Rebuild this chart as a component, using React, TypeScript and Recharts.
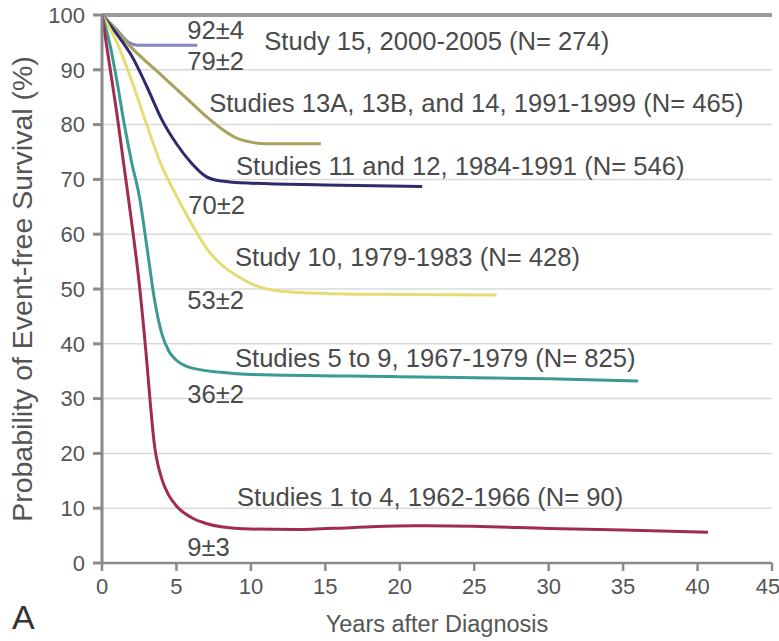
import React from "react"
import {
  LineChart,
  Line,
  XAxis,
  YAxis,
  CartesianGrid,
  ReferenceLine,
  ReferenceDot,
} from "recharts"

// event-free survival curves (years, %)
const study15 = [
  { x: 0, y: 100 }, { x: 1, y: 97.3 }, { x: 1.8, y: 95 }, { x: 2.4, y: 94.5 }, { x: 6.4, y: 94.5 },
]
const studies13to14 = [
  { x: 0, y: 100 }, { x: 1, y: 97 }, { x: 2, y: 94 }, { x: 4, y: 89 }, { x: 6, y: 84 },
  { x: 7, y: 81.5 }, { x: 8, y: 79.3 }, { x: 9, y: 77.6 }, { x: 10, y: 76.8 }, { x: 11, y: 76.5 },
  { x: 14.7, y: 76.5 },
]
const studies11to12 = [
  { x: 0, y: 100 }, { x: 1, y: 96.5 }, { x: 2, y: 92.5 }, { x: 3, y: 87 }, { x: 4, y: 81 },
  { x: 5, y: 76.5 }, { x: 6, y: 73 }, { x: 7, y: 70.5 }, { x: 8, y: 69.7 }, { x: 10, y: 69.3 },
  { x: 15, y: 69 }, { x: 21.5, y: 68.7 },
]
const study10 = [
  { x: 0, y: 100 }, { x: 1, y: 95 }, { x: 2, y: 88 }, { x: 3, y: 80 }, { x: 4, y: 72.5 },
  { x: 5, y: 67 }, { x: 6, y: 62 }, { x: 7, y: 57.5 }, { x: 8, y: 54.5 }, { x: 9, y: 52.5 },
  { x: 10, y: 51 }, { x: 12, y: 49.6 }, { x: 15, y: 49.2 }, { x: 20, y: 49 }, { x: 26.5, y: 48.9 },
]
const studies5to9 = [
  { x: 0, y: 100 }, { x: 0.5, y: 95 }, { x: 1, y: 88 }, { x: 1.5, y: 80 }, { x: 2, y: 73 },
  { x: 2.5, y: 67 }, { x: 3, y: 58 }, { x: 3.5, y: 48.5 }, { x: 4, y: 42 }, { x: 4.5, y: 38.6 },
  { x: 5, y: 37 }, { x: 6, y: 35.6 }, { x: 8, y: 34.8 }, { x: 10, y: 34.4 }, { x: 20, y: 34 },
  { x: 30, y: 33.6 }, { x: 36, y: 33.2 },
]
const studies1to4 = [
  { x: 0, y: 100 }, { x: 0.5, y: 91 }, { x: 1, y: 82 }, { x: 1.5, y: 72 }, { x: 2, y: 62 },
  { x: 2.5, y: 51 }, { x: 3, y: 37 }, { x: 3.25, y: 29 }, { x: 3.5, y: 22 }, { x: 4, y: 15.5 },
  { x: 4.5, y: 12.3 }, { x: 5, y: 10.4 }, { x: 6, y: 8.3 }, { x: 7, y: 7.2 }, { x: 8, y: 6.6 },
  { x: 10, y: 6.2 }, { x: 13, y: 6.1 }, { x: 17, y: 6.5 }, { x: 21, y: 6.8 }, { x: 25, y: 6.7 },
  { x: 30, y: 6.3 }, { x: 35, y: 6 }, { x: 40.7, y: 5.6 },
]

const xTicks = [0, 5, 10, 15, 20, 25, 30, 35, 40, 45]
const yTicks = [0, 10, 20, 30, 40, 50, 60, 70, 80, 90, 100]

// study names and 5-year EFS figures, anchored at (years, %)
const studyNames = [
  { x: 10.9, y: 95.3, text: "Study 15, 2000-2005 (N= 274)" },
  { x: 7.2, y: 84.0, text: "Studies 13A, 13B, and 14, 1991-1999 (N= 465)" },
  { x: 9.0, y: 72.4, text: "Studies 11 and 12, 1984-1991 (N= 546)" },
  { x: 8.93, y: 55.9, text: "Study 10, 1979-1983 (N= 428)" },
  { x: 8.93, y: 37.5, text: "Studies 5 to 9, 1967-1979 (N= 825)" },
  { x: 9.07, y: 12.1, text: "Studies 1 to 4, 1962-1966 (N= 90)" },
]
const efsValues = [
  { x: 5.73, y: 97.2, text: "92±4" },
  { x: 5.73, y: 91.7, text: "79±2" },
  { x: 5.8, y: 65.3, text: "70±2" },
  { x: 5.73, y: 48.0, text: "53±2" },
  { x: 5.73, y: 30.9, text: "36±2" },
  { x: 5.73, y: 3.0, text: "9±3" },
]

const font = "'Liberation Sans', Arial, Helvetica, sans-serif"
const textColor = "#4a4a4a"
const axisColor = "#8a8a8a"

export default function App() {
  return (
    <div style={{ position: "absolute", left: 0, top: 0, width: 779, height: 641, background: "#fff", fontFamily: font }}>
      <LineChart width={779} height={641} margin={{ top: 15, right: 7, bottom: 0, left: 0 }}>
        <CartesianGrid vertical={false} stroke="#dadada" strokeWidth={1.5} />
        <XAxis
          type="number"
          dataKey="x"
          domain={[0, 45]}
          ticks={xTicks}
          allowDataOverflow
          height={78}
          stroke={axisColor}
          strokeWidth={2.5}
          tickSize={8}
          tickMargin={7}
          tick={{ fill: "#555", fontSize: 22, fontFamily: font }}
          label={{ value: "Years after Diagnosis", position: "insideBottom", offset: 9, fill: "#555", fontSize: 23.5, fontFamily: font }}
        />
        <YAxis
          type="number"
          dataKey="y"
          domain={[0, 100]}
          ticks={yTicks}
          width={102}
          stroke={axisColor}
          strokeWidth={3}
          tickSize={9}
          tickMargin={8}
          tick={{ fill: "#555", fontSize: 22, fontFamily: font }}
          label={{
            value: "Probability of Event-free Survival (%)",
            angle: -90,
            position: "insideLeft",
            offset: 22,
            fill: "#555",
            fontSize: 28.5,
            fontFamily: font,
            textAnchor: "middle",
            style: { textAnchor: "middle" },
          }}
        />
        <ReferenceLine y={100} stroke="#9b9b9b" strokeWidth={4} />
        <Line data={study15} dataKey="y" type="monotone" stroke="#8585c2" strokeWidth={3} dot={false} isAnimationActive={false} />
        <Line data={studies13to14} dataKey="y" type="monotone" stroke="#a8a35c" strokeWidth={3} dot={false} isAnimationActive={false} />
        <Line data={studies11to12} dataKey="y" type="monotone" stroke="#2d2b6b" strokeWidth={3} dot={false} isAnimationActive={false} />
        <Line data={study10} dataKey="y" type="monotone" stroke="#e6dc74" strokeWidth={3} dot={false} isAnimationActive={false} />
        <Line data={studies5to9} dataKey="y" type="monotone" stroke="#3b9b92" strokeWidth={3} dot={false} isAnimationActive={false} />
        <Line data={studies1to4} dataKey="y" type="monotone" stroke="#a02c50" strokeWidth={3} dot={false} isAnimationActive={false} />
        {studyNames.map((s) => (
          <ReferenceDot
            key={s.text}
            x={s.x}
            y={s.y}
            r={0}
            fill="none"
            stroke="none"
            label={{ value: s.text, position: "right", offset: 0, fill: textColor, fontSize: 25.6, fontFamily: font }}
          />
        ))}
        {efsValues.map((s) => (
          <ReferenceDot
            key={s.text}
            x={s.x}
            y={s.y}
            r={0}
            fill="none"
            stroke="none"
            label={{ value: s.text, position: "right", offset: 0, fill: textColor, fontSize: 25.6, fontFamily: font }}
          />
        ))}
      </LineChart>
      <div style={{ position: "absolute", left: 12, top: 600, fontSize: 34, lineHeight: 1, color: "#333", fontFamily: font }}>
        A
      </div>
    </div>
  )
}
